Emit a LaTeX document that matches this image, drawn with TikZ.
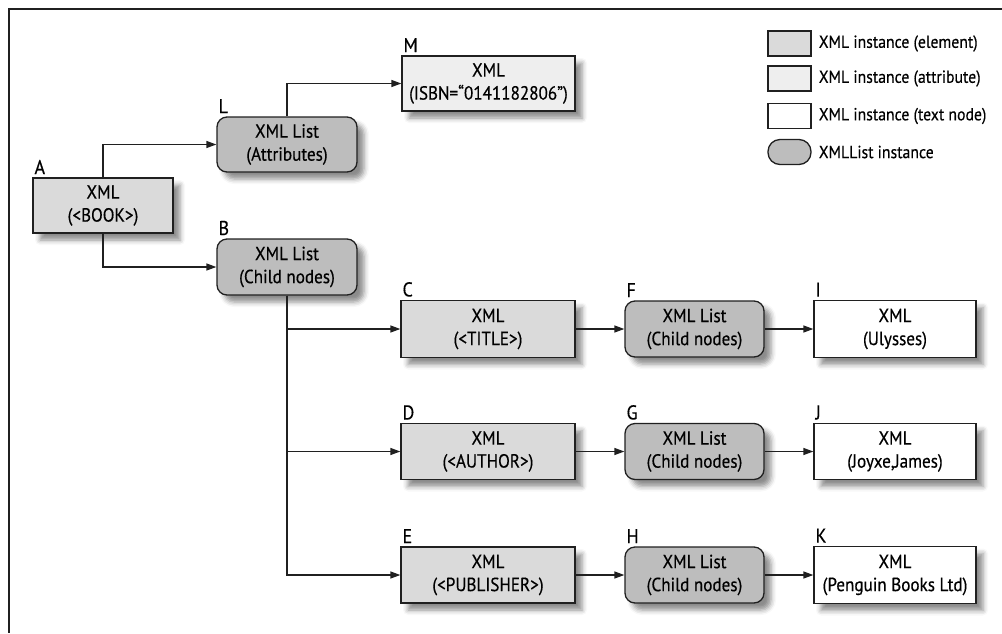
\documentclass[tikz,border=0pt]{standalone}
\usepackage{fontspec}
\setmainfont{PT Sans}[FakeStretch=0.9,FakeBold=0.4]
\usetikzlibrary{arrows.meta,shadows.blur}
\definecolor{elfill}{HTML}{DADADA}
\definecolor{attfill}{HTML}{EEEEEE}
\definecolor{listfill}{HTML}{BDBDBD}
\definecolor{edgec}{HTML}{202020}
\newcommand{\nodefont}{\fontsize{19}{23}\selectfont}
\newcommand{\legfont}{\fontsize{17.5}{20}\selectfont}
\newcommand{\lblfont}{\fontsize{20}{22}\selectfont}
\tikzset{
  shd/.style={blur shadow={shadow xshift=7pt, shadow yshift=-7pt, shadow blur radius=5pt, shadow opacity=45}},
  box/.style={draw=edgec, line width=1.3pt, inner sep=0pt, align=center, font=\nodefont},
  elem/.style={box, shd, fill=elfill},
  attr/.style={box, shd, fill=attfill},
  txtn/.style={box, shd, fill=white},
  lst/.style={box, shd, fill=listfill, rounded corners=10pt},
  lbl/.style={anchor=south west, inner sep=0pt, font=\lblfont},
  conn/.style={draw=edgec, line width=1.3pt, -{Triangle[length=10pt,width=7pt]}},
  legbox/.style={draw=edgec, line width=1.3pt, inner sep=0pt, minimum width=43pt, minimum height=25pt},
  legtxt/.style={anchor=west, inner sep=0pt, font=\legfont}
}
\begin{document}
\begin{tikzpicture}[x=1pt,y=-1pt]
\useasboundingbox (0,0) rectangle (1002,633);
\coordinate (frTR) at (1002,9);
\coordinate (frTL) at (9,9);
\coordinate (frBL) at (9,633);
\draw[edgec, line width=1.5pt] (frTR) -- (frTL) -- (frBL);

% nodes
\node[elem, minimum width=140pt, minimum height=55pt] (A) at (103,205.5) {XML\\(<BOOK>)};
\node[lst, minimum width=140pt, minimum height=55pt] (L) at (287,144.5) {XML List\\(Attributes)};
\node[attr, minimum width=173pt, minimum height=55pt] (M) at (488.5,83.5) {XML\\(ISBN=“0141182806”)};
\node[lst, minimum width=140pt, minimum height=56pt] (B) at (287,267) {XML List\\(Child nodes)};

\node[elem, minimum width=174pt, minimum height=57pt] (C) at (488,329) {XML\\(<TITLE>)};
\node[elem, minimum width=174pt, minimum height=56pt] (D) at (488,451.5) {XML\\(<AUTHOR>)};
\node[elem, minimum width=174pt, minimum height=56pt] (E) at (488,575) {XML\\(<PUBLISHER>)};

\node[lst, minimum width=139pt, minimum height=56pt] (F) at (694.5,329) {XML List\\(Child nodes)};
\node[lst, minimum width=139pt, minimum height=56pt] (G) at (694.5,451.5) {XML List\\(Child nodes)};
\node[lst, minimum width=139pt, minimum height=56pt] (H) at (694.5,575) {XML List\\(Child nodes)};

\node[txtn, minimum width=162pt, minimum height=57pt] (I) at (895,329) {XML\\(Ulysses)};
\node[txtn, minimum width=162pt, minimum height=56pt] (J) at (895,451.5) {XML\\(Joyxe,James)};
\node[txtn, minimum width=162pt, minimum height=57pt] (K) at (895,575) {XML\\(Penguin Books Ltd)};

% letter labels
\foreach \n in {A,L,M,B,C,D,E,F,G,H,I,J,K}{
  \node[lbl] (lab\n) at ([xshift=2pt,yshift=3pt]\n.north west) {\n};
}

% connectors
\draw[conn] (A.north) |- (L.west);
\draw[conn] (A.south) |- (B.west);
\draw[conn] (L.north) |- (M.west);
\draw[conn] (B.south) |- (C.west);
\draw[conn] (B.south) |- (D.west);
\draw[conn] (B.south) |- (E.west);
\draw[conn] (C.east) -- (F.west);
\draw[conn] (D.east) -- (G.west);
\draw[conn] (E.east) -- (H.west);
\draw[conn] (F.east) -- (I.west);
\draw[conn] (G.east) -- (J.west);
\draw[conn] (H.east) -- (K.west);

% legend
\node[legbox, fill=elfill] (lg1) at (789.5,43.5) {};
\node[legbox, fill=attfill] (lg2) at (789.5,78.5) {};
\node[legbox, fill=white] (lg3) at (789.5,116) {};
\node[legbox, fill=listfill, rounded corners=12pt] (lg4) at (789.5,152) {};
\node[legtxt] (lt1) at ([xshift=7pt]lg1.east) {XML instance (element)};
\node[legtxt] (lt2) at ([xshift=7pt]lg2.east) {XML instance (attribute)};
\node[legtxt] (lt3) at ([xshift=7pt]lg3.east) {XML instance (text node)};
\node[legtxt] (lt4) at ([xshift=7pt]lg4.east) {XMLList instance};
\end{tikzpicture}
\end{document}
